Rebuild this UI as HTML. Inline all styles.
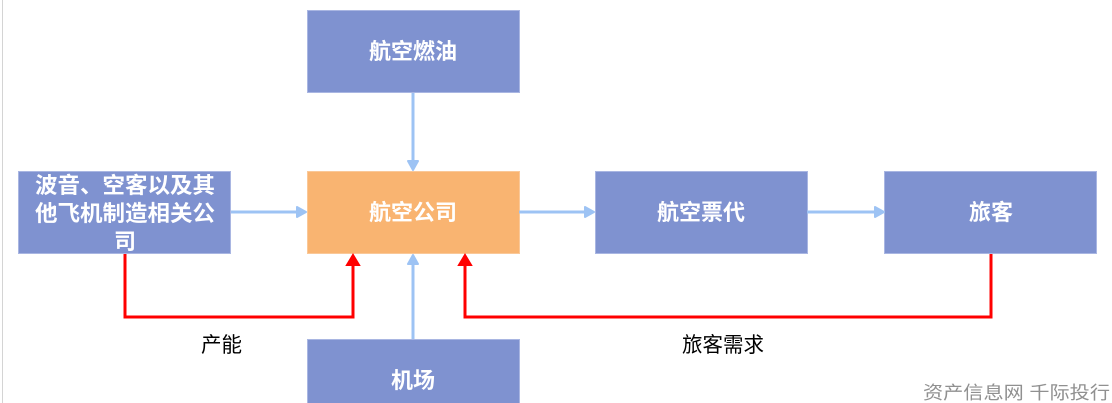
<!DOCTYPE html>
<html><head><meta charset="utf-8"><style>
html,body{margin:0;padding:0;background:#fff;}
body{width:1112px;height:403px;overflow:hidden;}
svg{display:block;}
.bt{font-family:"Liberation Sans","Noto Sans CJK SC",sans-serif;font-weight:bold;font-size:22px;fill:#fff;}
.lb{font-family:"Liberation Sans","Noto Sans CJK SC",sans-serif;font-size:21px;fill:#000;}
.wm{font-family:"Liberation Sans","Noto Sans CJK SC",sans-serif;font-size:18px;fill:#909090;}
</style></head><body>
<svg width="1112" height="403" viewBox="0 0 1112 403" xmlns="http://www.w3.org/2000/svg">
<line x1="2.5" y1="0" x2="2.5" y2="403" stroke="#d4d4d4" stroke-width="1"/>
<!-- boxes -->
<rect x="307.5" y="10.5" width="212" height="82" fill="#7F92D0" stroke="#A9B6E2" stroke-width="1"/>
<rect x="18.5" y="171.5" width="212" height="82" fill="#7F92D0" stroke="#A9B6E2" stroke-width="1"/>
<rect x="307.5" y="171.5" width="212" height="82" fill="#F9B471" stroke="#FAC898" stroke-width="1"/>
<rect x="595.5" y="171.5" width="212" height="82" fill="#7F92D0" stroke="#A9B6E2" stroke-width="1"/>
<rect x="884.5" y="171.5" width="212" height="82" fill="#7F92D0" stroke="#A9B6E2" stroke-width="1"/>
<rect x="307.5" y="339.5" width="212" height="80" fill="#7F92D0" stroke="#A9B6E2" stroke-width="1"/>
<!-- box texts -->
<text class="bt" x="413" y="59" text-anchor="middle">航空燃油</text>
<text class="bt" x="125" y="193" text-anchor="middle" textLength="180" lengthAdjust="spacingAndGlyphs">波音、空客以及其</text>
<text class="bt" x="125" y="221" text-anchor="middle" textLength="180" lengthAdjust="spacingAndGlyphs">他飞机制造相关公</text>
<text class="bt" x="125" y="249" text-anchor="middle">司</text>
<text class="bt" x="413" y="220" text-anchor="middle">航空公司</text>
<text class="bt" x="701" y="220" text-anchor="middle">航空票代</text>
<text class="bt" x="991" y="220" text-anchor="middle">旅客</text>
<text class="bt" x="413" y="388" text-anchor="middle">机场</text>
<!-- blue connectors -->
<g stroke="#9DC3F4" stroke-width="3" fill="none">
<line x1="413" y1="93" x2="413" y2="162"/>
<line x1="413" y1="339" x2="413" y2="262"/>
<line x1="231" y1="212" x2="298" y2="212"/>
<line x1="519" y1="212" x2="586" y2="212"/>
<line x1="807" y1="212" x2="876" y2="212"/>
</g>
<g fill="#9DC3F4" stroke="#9DC3F4" stroke-width="2" stroke-linejoin="round">
<polygon points="408,161 418,161 413,170"/>
<polygon points="408,264 418,264 413,255"/>
<polygon points="297,207 297,217 306,212"/>
<polygon points="585,207 585,217 594,212"/>
<polygon points="875,207 875,217 884,212"/>
</g>
<!-- red connectors -->
<g stroke="#FF0000" stroke-width="3" fill="none" stroke-linejoin="miter">
<polyline points="125,254 125,317 353,317 353,264"/>
<polyline points="991,254 991,317 465,317 465,264"/>
</g>
<g fill="#FF0000" stroke="#FF0000" stroke-width="2" stroke-linejoin="miter">
<polygon points="347,265 359,265 353,255"/>
<polygon points="459,265 471,265 465,255"/>
</g>
<!-- labels -->
<text class="lb" x="201" y="352" textLength="41" lengthAdjust="spacingAndGlyphs">产能</text>
<text class="lb" x="682" y="352" textLength="82" lengthAdjust="spacingAndGlyphs">旅客需求</text>
<text class="wm" x="923" y="399" textLength="187" lengthAdjust="spacingAndGlyphs">资产信息网 千际投行</text>
</svg>
</body></html>
